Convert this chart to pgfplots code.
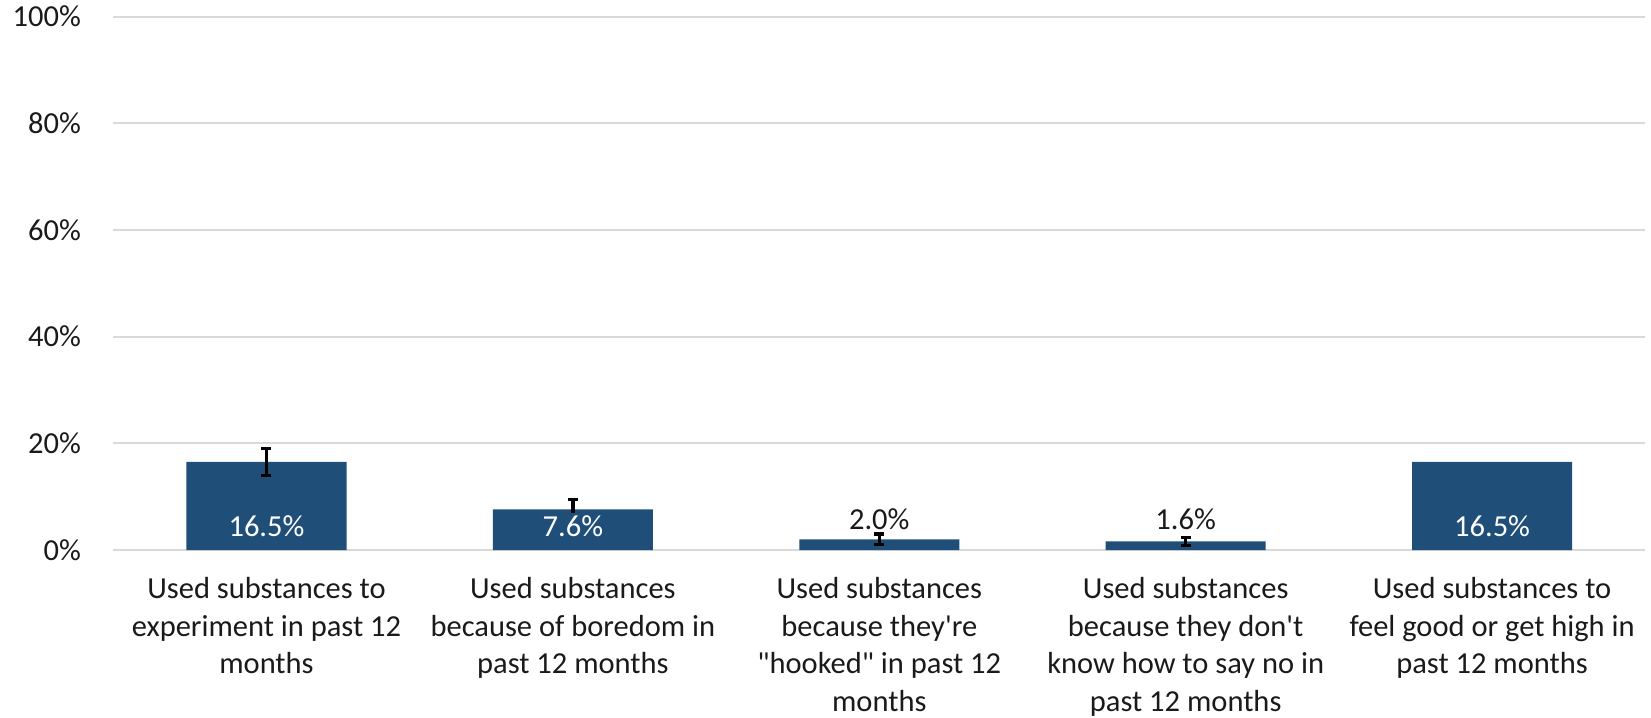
\documentclass[border=0pt]{standalone}
\usepackage{fontspec}
\setmainfont{Carlito}
\usepackage{pgfplots}
\pgfplotsset{compat=1.18}
\definecolor{barblue}{HTML}{1F4E79}
\definecolor{gridgray}{HTML}{D9D9D9}
\definecolor{txt}{HTML}{1A1A1A}
\newcommand\lblfont{\fontsize{15.25pt}{18.75pt}\selectfont}
\begin{document}
\begin{tikzpicture}
\useasboundingbox (-56.65pt,-84pt) rectangle (768.85pt,275pt);
\begin{axis}[
  at={(0pt,0pt)}, anchor=south west,
  scale only axis, width=766pt, height=266.7pt,
  xmin=-0.5, xmax=4.5, ymin=0, ymax=100,
  axis line style={draw=none},
  major tick length=0pt,
  ymajorgrids, grid style={gridgray, line width=1pt},
  ytick={0,20,40,60,80,100},
  yticklabels={0\%,20\%,40\%,60\%,80\%,100\%},
  yticklabel style={font=\lblfont, text=txt, inner sep=0pt, anchor=east, xshift=-16pt},
  xtick={0,1,2,3,4},
  xticklabels={
    {Used substances to\\experiment in past 12\\months},
    {Used substances\\because of boredom in\\past 12 months},
    {Used substances\\because they\textquotesingle re\\\textquotedbl hooked\textquotedbl{} in past 12\\months},
    {Used substances\\because they don\textquotesingle t\\know how to say no in\\past 12 months},
    {Used substances to\\feel good or get high in\\past 12 months}},
  xticklabel style={font=\lblfont, text=txt, align=center, anchor=north, inner sep=0pt, yshift=-13.5pt},
]
\addplot[ybar, bar width=80pt, bar shift=0pt, fill=barblue, draw=none]
  coordinates {(0,16.5) (1,7.6) (2,2.0) (3,1.6) (4,16.5)};
\addplot[draw=none, mark=none,
  error bars/.cd, y dir=both, y explicit,
  error bar style={line width=1.6pt, draw=black, solid},
  error mark=|,
  error mark options={draw=black, mark size=2.5pt, line width=1.6pt, solid}]
  coordinates {(0,16.5) +- (0,2.6) (1,7.6) +- (0,1.9) (2,2.0) +- (0,1.0) (3,1.6) +- (0,0.8)};
\addplot[draw=none, mark=none, nodes near coords, point meta=explicit symbolic,
  every node near coord/.append style={anchor=center, font=\lblfont, text=white, fill=barblue, inner sep=1pt}]
  coordinates {(0,4.5)[16.5\%] (1,4.5)[7.6\%] (4,4.5)[16.5\%]};
\addplot[draw=none, mark=none, nodes near coords, point meta=explicit symbolic,
  every node near coord/.append style={anchor=center, font=\lblfont, text=txt, inner sep=1pt}]
  coordinates {(2,5.8)[2.0\%] (3,5.7)[1.6\%]};
\end{axis}
\end{tikzpicture}
\end{document}
